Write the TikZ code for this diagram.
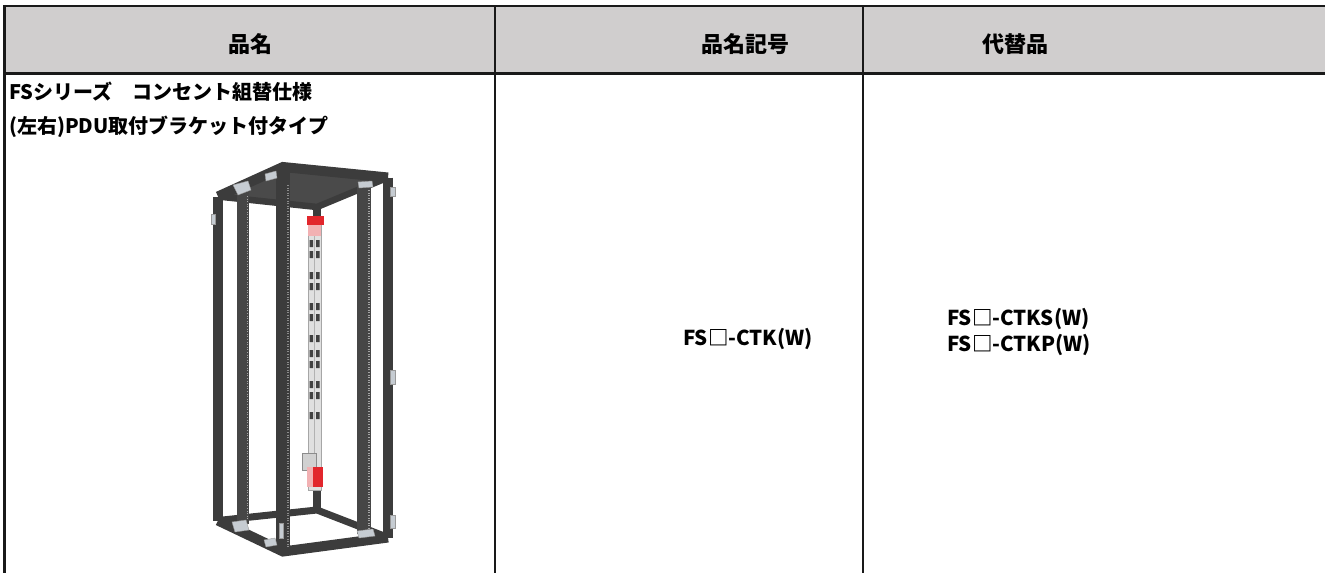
\documentclass[tikz,border=0pt]{standalone}
\usepackage{fontspec}
\setmainfont{Noto Sans CJK JP}
\usepackage{xcolor}
\definecolor{headgray}{HTML}{D0CECE}
\definecolor{rackdark}{HTML}{3C3C3C}
\definecolor{railgray}{HTML}{464646}
\definecolor{roofgray}{HTML}{4A4A4A}
\definecolor{pdured}{HTML}{E2262C}
\definecolor{pdupink}{HTML}{F2B1B3}
\definecolor{silver}{HTML}{C6CCD2}

\begin{document}
\begin{tikzpicture}[x=1pt,y=-1pt,
					head/.style={font=\fontsize{22}{22}\selectfont\bfseries,anchor=base,inner sep=0pt},
					cell/.style={font=\fontsize{20}{20}\selectfont\bfseries,anchor=base west,inner sep=0pt},
					code/.style={font=\fontsize{20.5}{20.5}\selectfont\bfseries,anchor=base west,inner sep=0pt},
					rule/.style={line width=2.5pt,black!90},
					divider/.style={line width=1.5pt,black!90},
					beam/.style={rackdark,line width=10pt},
					backbeam/.style={rackdark,line width=6.5pt},
					rail/.style={railgray,line width=12pt},
					holes/.style={black!35,line width=1.6pt,dash pattern=on 0.8pt off 1.8pt},
					outlet/.style={fill=black!75},
					clip part/.style={fill=silver,draw=black!40,line width=0.4pt}]

  \useasboundingbox (0,0) rectangle (1325,573);

  % table
  \fill[headgray] (4,6) rectangle (1325,73.5);
  \draw[rule] (4,6) -- (1325,6);
  \draw[rule] (4,73.5) -- (1325,73.5);
  \draw[line width=3pt,black!90] (4,4.75) -- (4,573);
  \draw[divider] (495,6) -- (495,573);
  \draw[divider] (863,6) -- (863,573);

  \node[head] (hName) at (250,52.5) {品名};
  \node[head] (hCode) at (745,52.5) {品名記号};
  \node[head] (hAlt) at (1015,52.5) {代替品};

  \node[cell] (nameA) at (9,99) {FSシリーズ　コンセント組替仕様};
  \node[cell] (nameB) at (9,133) {(左右)PDU取付ブラケット付タイプ};

  \node[code] (codeMain) at (683,345) {FS□-CTK(W)};
  \node[code] (altS) at (947,325) {FS□-CTKS(W)};
  \node[code] (altP) at (947,351) {FS□-CTKP(W)};

  % rack corners
  \coordinate (Lt) at (218,196.5);
  \coordinate (Ft) at (283,167);
  \coordinate (Rt) at (388,177.5);
  \coordinate (Kt) at (317,207);
  \coordinate (Lb) at (218,520.5);
  \coordinate (Fb) at (283,551.5);
  \coordinate (Rb) at (388,537.5);
  \coordinate (Kb) at (317,510);

  \fill[roofgray] (Lt) -- (Ft) -- (Rt) -- (Kt) -- cycle;
  \draw[backbeam] (Lt) -- (Kt) -- (Rt);
  \draw[backbeam,line width=7pt] (Lb) -- (Kb) -- (Rb);
  \draw[rackdark,line width=8pt] (Kt) -- (Kb);

  % PDU
  \filldraw[fill=black!12,draw=black!35,line width=0.5pt] (308,216) rectangle (321,490);
  \draw[black!30,line width=0.4pt] (314.5,236) -- (314.5,453);
  \foreach \y in {240,251,272,283,303,314,335,350,361,381,392,412}
	\fill[outlet] (309.5,\y) rectangle (313,\y+7) (316,\y) rectangle (319.5,\y+7);
  \fill[pdupink] (308,224) rectangle (321,236);
  \fill[pdured] (307,216) rectangle (324,224.5);
  \filldraw[fill=black!18,draw=black!45,line width=0.4pt] (302,453) rectangle (316,470);
  \fill[pdured] (307,467) rectangle (323,487);
  \fill[pdupink] (307,467) rectangle (313,487);

  % rails and posts
  \draw[rail] (243,190) -- (243,524);
  \draw[holes] (247.5,196) -- (247.5,520);
  \draw[rail,line width=14pt] (364,183) -- (364,534);
  \draw[holes] (369,190) -- (369,530);
  \draw[rackdark] (Lt) edge[line width=10pt] (Lb);
  \draw[rackdark] (Rt) edge[line width=10pt] (Rb);
  \draw[beam] (Lt) -- (Ft) -- (Rt);
  \draw[beam] (Lb) -- (Fb) -- (Rb);
  \draw[rackdark,line width=14pt] (Ft) -- (Fb);
  \draw[holes,black!45] (288,185) -- (288,548);

  % brackets
  \filldraw[clip part] (233,185) -- (248,181) -- (251,190) -- (238,195) -- cycle;
  \filldraw[clip part] (265,174) -- (276,171) -- (277,178) -- (266,181) -- cycle;
  \filldraw[clip part] (358,182) -- (372,181) -- (373,187) -- (359,188) -- cycle;
  \filldraw[clip part] (390,187) rectangle (395,196);
  \filldraw[clip part] (390,370) rectangle (395,384);
  \filldraw[clip part] (390,515) rectangle (395,528);
  \filldraw[clip part] (211,214) rectangle (215,224);
  \filldraw[clip part] (232,522) -- (246,520) -- (249,530) -- (235,532) -- cycle;
  \filldraw[clip part] (264,540) -- (275,538) -- (277,545) -- (266,547) -- cycle;
  \filldraw[clip part] (357,531) -- (373,529) -- (375,536) -- (359,538) -- cycle;
  \filldraw[clip part] (279,523) rectangle (283,538);
\end{tikzpicture}
\end{document}
